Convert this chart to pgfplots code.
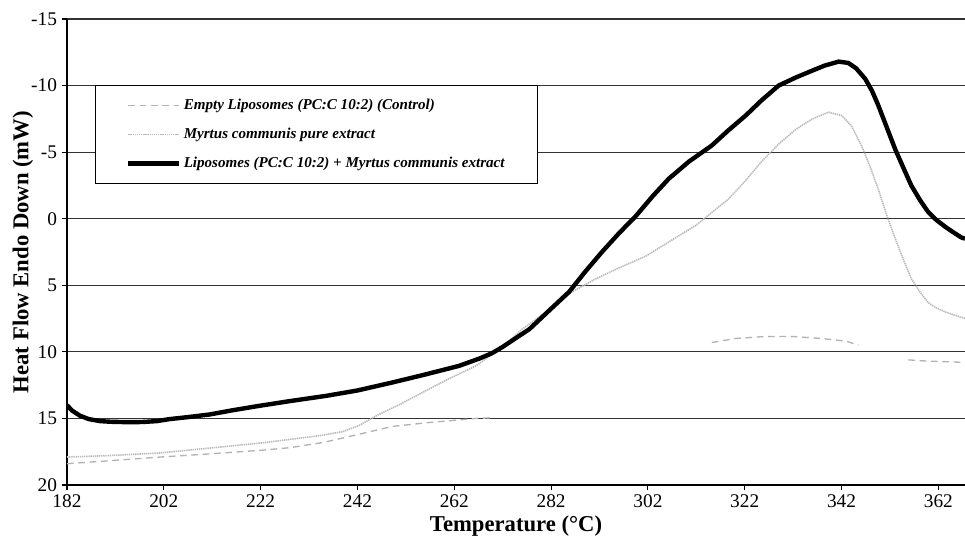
\documentclass[border=0pt]{standalone}
\usepackage{fontspec}
\setmainfont{Liberation Serif}
\usepackage{pgfplots}
\pgfplotsset{compat=1.18}
\usetikzlibrary{calc}

\begin{document}
\begin{tikzpicture}
\begin{axis}[
scale only axis,width=673.5pt,height=349.5pt,
y dir=reverse,
xmin=182,xmax=367.5,ymin=-15,ymax=20,
axis x line=bottom,axis y line=left,axis line style={-,black,line width=0.8pt},
xtick={182,202,...,362},
ytick={-15,-10,-5,0,5,10,20},
yticklabels={-15,-10,-5,0,5,10,20},
extra y ticks={15},extra y tick labels={15},
extra y tick style={grid style={gray!70,line width=1pt}},
tick align=outside,tick style={black,line width=0.8pt},major tick length=4pt,
ymajorgrids,major grid style={black!80,line width=0.9pt},
/pgf/number format/assume math mode=true,
tick label style={font=\fontsize{14.5}{16}\selectfont},
xlabel={Temperature (\textdegree C)},
ylabel={Heat Flow Endo Down (mW)},
label style={font=\bfseries\fontsize{17}{19}\selectfont},
xlabel style={at={(axis description cs:0.5,-0.088)},anchor=center},
ylabel style={at={(axis description cs:-0.049,0.5)},anchor=center},
unbounded coords=jump,
legend cell align=left,
legend style={at={(axis description cs:0.031,0.858)},anchor=north west,
  draw=black,line width=0.8pt,fill=white,
  font=\bfseries\itshape\fontsize{11.3}{13}\selectfont,
  inner xsep=23pt,inner ysep=8pt,row sep=8.5pt},
legend image code/.code={\draw[#1] (0pt,0pt) -- (38pt,0pt);},
]
\addplot[gray!60,line width=1pt,dash pattern=on 5pt off 3.5pt] coordinates {
(182,18.4)(190,18.2)(201.2,17.9)(210,17.7)(221.8,17.4)(228,17.2)(235,16.8)
(239.8,16.4)(244.5,16.0)(249.2,15.6)(257,15.3)(266.5,15.0)(270,14.95)
(292,nan)
(315.2,9.3)(320,9.0)(326,8.85)(332,8.85)(338,9.0)(343,9.2)(345.5,9.5)
(350,nan)
(355.8,10.6)(360,10.7)(364.7,10.75)(367.5,10.8)};
\addlegendentry{Empty Liposomes (PC:C 10:2) (Control)}
\addplot[gray!55,line width=1.2pt,dash pattern=on 1pt off 0.6pt] coordinates {
(182,17.9)(190,17.8)(201,17.6)(208,17.35)(215,17.1)(222,16.85)(228.6,16.55)
(234,16.3)(238.9,16.0)(242.5,15.5)(245.9,14.8)(251,13.9)(256.2,12.9)(261,12.0)
(266.5,11.05)(271.9,9.65)(276,8.3)(281,7.0)(286.3,5.5)(291.3,4.5)(296,3.7)
(301.6,2.8)(306.5,1.7)(311.9,0.5)(318.7,-1.5)(322,-2.8)(325.5,-4.3)(329,-5.6)
(332.5,-6.7)(336,-7.5)(339.3,-8.0)(342,-7.75)(344,-7.0)(346.1,-5.5)(347.9,-3.9)
(349.6,-2.2)(351.3,-0.3)(353.1,1.5)(354.8,3.1)(356.4,4.5)(358.2,5.5)(359.9,6.3)
(361.6,6.7)(363.4,7.0)(365,7.2)(366.7,7.4)(367.5,7.5)};
\addlegendentry{Myrtus communis pure extract}
\addplot[black,line width=3.3pt] coordinates {
(182,14.0)(183,14.4)(184.7,14.8)(186.5,15.05)(188.8,15.2)(191,15.25)(194.4,15.28)
(197.5,15.27)(200.6,15.2)(203.2,15.05)(207,14.9)(211.5,14.7)(216,14.4)(221.8,14.05)
(228,13.7)(235.6,13.3)(242,12.9)(249.2,12.3)(256,11.7)(263,11.05)(267.2,10.5)
(269.8,10.1)(271.9,9.65)(275.4,8.8)(277.5,8.3)(281,7.1)(285.7,5.5)(289,4.0)
(292.5,2.5)(296,1.1)(299.5,-0.2)(303,-1.7)(306.3,-3.0)(310.5,-4.3)(315.2,-5.5)
(318.5,-6.6)(322.2,-7.75)(325.5,-8.9)(329,-10.0)(332.5,-10.6)(335.8,-11.1)
(338.5,-11.5)(341.4,-11.8)(343.4,-11.7)(345,-11.3)(346.9,-10.5)(348.3,-9.6)
(349.6,-8.5)(351.3,-6.9)(353.1,-5.2)(354.8,-3.8)(356.4,-2.5)(358.2,-1.4)
(359.9,-0.5)(361.6,0.1)(363.4,0.6)(365,1.0)(366.7,1.4)(367.5,1.5)};
\addlegendentry{Liposomes (PC:C 10:2) + Myrtus communis extract}
\end{axis}
\pgfresetboundingbox
\path ($(current axis.south west)+(-50.25pt,-45.75pt)$) rectangle ($(current axis.north east)+(0pt,14.25pt)$);
\end{tikzpicture}
\end{document}
